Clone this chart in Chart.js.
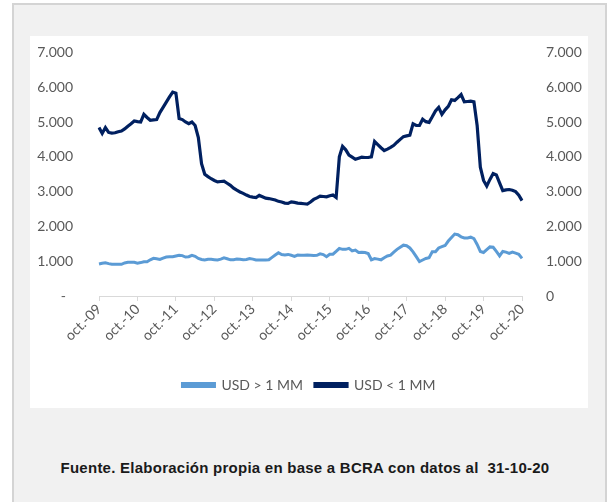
<!DOCTYPE html>
<html>
<head>
<meta charset="utf-8">
<script src="https://cdn.jsdelivr.net/npm/chart.js@4"></script>
<style>
  body { margin: 0; width: 610px; height: 502px; background: #ffffff; overflow: hidden; font-family: 'Liberation Sans', Arial, sans-serif; }
  #frame { position: absolute; left: 12px; top: 3px; width: 591px; height: 505px; background: #f1f1f1; border: 2px solid #d4d4d4; }
  #panel { position: absolute; left: 30px; top: 36px; width: 558px; height: 372px; background: #ffffff; }
  #chart { position: absolute; left: 0; top: -10px; }
  #source { position: absolute; left: 0; width: 610px; top: 459px; text-align: center; font-weight: bold; font-size: 15px; color: #1a1a1a; letter-spacing: 0.25px; }
</style>
</head>
<body>
<div id="frame"></div>
<div id="panel"><canvas id="chart" width="558" height="382"></canvas></div>
<div id="source">Fuente. Elaboración propia en base a BCRA con datos al&nbsp; 31-10-20</div>
<script>
// monthly series oct-09 .. oct-20
const monthNames = ['oct.', 'nov.', 'dic.', 'ene.', 'feb.', 'mar.', 'abr.', 'may.', 'jun.', 'jul.', 'ago.', 'sep.'];

const usdMas1MM = [
  920, 940, 955, 930, 910, 910, 910, 910, 950, 967, 967, 967,
  945, 960, 984, 984, 1040, 1081, 1070, 1052, 1090, 1120, 1127, 1127,
  1150, 1170, 1160, 1120, 1130, 1170, 1140, 1080, 1050, 1035, 1055, 1055,
  1045, 1035, 1060, 1095, 1070, 1040, 1045, 1060, 1055, 1040, 1050, 1075,
  1060, 1035, 1033, 1033, 1033, 1040, 1110, 1176, 1243, 1190, 1180, 1195,
  1170, 1140, 1176, 1170, 1170, 1176, 1170, 1165, 1170, 1210, 1190, 1130,
  1200, 1200, 1280, 1368, 1340, 1340, 1368, 1295, 1320, 1250, 1260, 1250,
  1220, 1040, 1075, 1060, 1040, 1100, 1150, 1176, 1260, 1340, 1400, 1460,
  1445, 1380, 1270, 1130, 990, 1035, 1080, 1100, 1270, 1270, 1380, 1420,
  1450, 1580, 1680, 1780, 1760, 1700, 1670, 1670, 1690, 1650, 1480, 1280,
  1250, 1330, 1410, 1400, 1280, 1150, 1280, 1260, 1224, 1260, 1230, 1200,
  1080
];

const usdMenos1MM = [
  4840, 4670, 4840, 4700, 4680, 4690, 4720, 4740, 4800, 4880, 4950, 5030,
  5010, 5000, 5220, 5130, 5050, 5060, 5070, 5270, 5420, 5570, 5720, 5860,
  5830, 5100, 5070, 5000, 4950, 5000, 4900, 4550, 3800, 3500, 3430, 3370,
  3320, 3280, 3290, 3300, 3240, 3180, 3100, 3040, 2990, 2950, 2900, 2860,
  2840, 2830, 2890, 2850, 2810, 2800, 2780, 2760, 2720, 2700, 2670, 2660,
  2705, 2690, 2670, 2660, 2650, 2640, 2700, 2775, 2820, 2870, 2860, 2850,
  2880, 2900, 2830, 4000, 4300, 4200, 4050, 3990, 3930, 3960, 3990, 3980,
  3980, 4000, 4440, 4350, 4260, 4180, 4220, 4270, 4330, 4420, 4500, 4580,
  4600, 4620, 4950, 4900, 4900, 5080, 5010, 4990, 5150, 5320, 5420, 5220,
  5350, 5450, 5640, 5620, 5700, 5790, 5580, 5590, 5600, 5580, 4900, 3700,
  3320, 3160, 3350, 3520, 3480, 3250, 3030, 3050, 3060, 3040, 3000, 2900,
  2740
];

// labels: oct.-09, nov.-09, ... oct.-20
const labels = [];
for (let i = 0; i < usdMas1MM.length; i++) {
  const yy = String(9 + Math.floor(i / 12) + (i % 12 >= 3 ? 1 : 0)).padStart(2, '0');
  labels.push(monthNames[i % 12] + '-' + yy);
}

const fmt = v => String(v).replace(/\B(?=(\d{3})+(?!\d))/g, '.');
const tickColor = '#595959';
const tickFont = { family: 'Lato', size: 14 };

new Chart(document.getElementById('chart').getContext('2d'), {
  type: 'line',
  data: {
    labels: labels,
    datasets: [
      {
        label: 'USD > 1 MM',
        data: usdMas1MM,
        borderColor: '#5B9BD5',
        backgroundColor: '#5B9BD5',
        borderWidth: 3,
        pointRadius: 0,
        tension: 0,
        yAxisID: 'y'
      },
      {
        label: 'USD < 1 MM',
        data: usdMenos1MM,
        borderColor: '#002060',
        backgroundColor: '#002060',
        borderWidth: 3.2,
        pointRadius: 0,
        tension: 0,
        yAxisID: 'y2'
      }
    ]
  },
  options: {
    responsive: false,
    animation: false,
    layout: { autoPadding: false, padding: { top: 16, bottom: 6, left: 0, right: 0 } },
    plugins: {
      legend: {
        position: 'bottom',
        labels: { boxWidth: 32, boxHeight: 3, color: tickColor, font: { family: 'Lato', size: 14 }, padding: 12 }
      },
      tooltip: { enabled: false }
    },
    scales: {
      x: {
        offset: false,
        grid: { display: true, drawOnChartArea: false, color: '#d9d9d9', tickLength: 5 },
        border: { display: true, color: '#d9d9d9' },
        ticks: {
          autoSkip: false,
          maxRotation: 45,
          minRotation: 45,
          color: tickColor,
          font: tickFont,
          padding: 0,
          callback: function (val, idx) { return idx % 12 === 0 ? labels[idx] : null; }
        },
        afterFit: s => { s.height = 70; }
      },
      y: {
        position: 'left',
        min: 0, max: 7000,
        grid: { display: false },
        border: { display: false },
        ticks: { stepSize: 1000, color: tickColor, font: tickFont, padding: 18, callback: v => v === 0 ? '-  ' : fmt(v) },
        afterFit: s => { s.width = 69; }
      },
      y2: {
        position: 'right',
        min: 0, max: 7000,
        grid: { display: false },
        border: { display: false },
        ticks: { stepSize: 1000, color: tickColor, font: tickFont, padding: 16, callback: v => fmt(v) },
        afterFit: s => { s.width = 66; }
      }
    }
  }
});
</script>
</body>
</html>
